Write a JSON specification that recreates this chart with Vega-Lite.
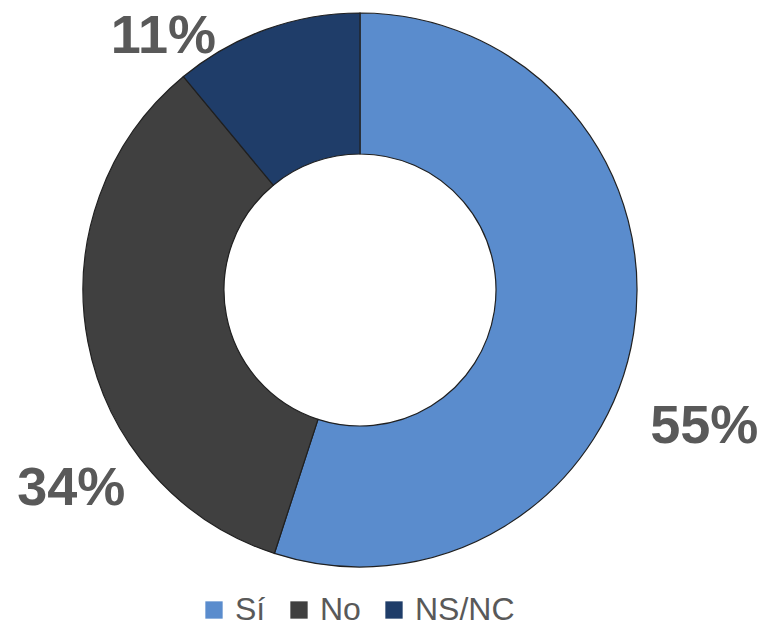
{
  "$schema": "https://vega.github.io/schema/vega-lite/v6.json",
  "width": 720,
  "height": 580,
  "autosize": "none",
  "padding": {"left": 0, "top": 0, "right": 40, "bottom": 48},
  "background": "white",
  "data": {
    "values": [
      {"respuesta": "Sí", "pct": 55, "label": "55%", "orden": 1},
      {"respuesta": "No", "pct": 34, "label": "34%", "orden": 2},
      {"respuesta": "NS/NC", "pct": 11, "label": "11%", "orden": 3}
    ]
  },
  "encoding": {
    "theta": {"field": "pct", "type": "quantitative", "stack": true},
    "order": {"field": "orden", "type": "ordinal"}
  },
  "layer": [
    {
      "mark": {"type": "arc", "radius": 277, "radius2": 136, "stroke": "#202020", "strokeWidth": 1.2},
      "encoding": {
        "color": {
          "field": "respuesta",
          "type": "nominal",
          "sort": ["Sí", "No", "NS/NC"],
          "scale": {"domain": ["Sí", "No", "NS/NC"], "range": ["#5A8CCD", "#404040", "#1F3D69"]},
          "legend": {
            "title": null,
            "orient": "none",
            "legendX": 198,
            "legendY": 594,
            "direction": "horizontal",
            "symbolType": "square",
            "symbolSize": 300,
            "symbolStrokeWidth": 0,
            "labelFont": "Liberation Sans",
            "labelFontSize": 32,
            "labelColor": "#595959",
            "labelOffset": 5,
            "columnPadding": 17
          }
        }
      }
    },
    {
      "mark": {"type": "text", "radius": 300, "dx": 48, "dy": 106, "align": "center", "baseline": "alphabetic", "font": "Liberation Sans", "fontWeight": "bold", "fontSize": 54, "color": "#595959"},
      "encoding": {"text": {"condition": {"test": "datum.respuesta === 'Sí'", "field": "label"}, "value": ""}}
    },
    {
      "mark": {"type": "text", "radius": 300, "dx": 6, "dy": 159, "align": "center", "baseline": "alphabetic", "font": "Liberation Sans", "fontWeight": "bold", "fontSize": 54, "color": "#595959"},
      "encoding": {"text": {"condition": {"test": "datum.respuesta === 'No'", "field": "label"}, "value": ""}}
    },
    {
      "mark": {"type": "text", "radius": 300, "dx": -95, "dy": 45, "align": "center", "baseline": "alphabetic", "font": "Liberation Sans", "fontWeight": "bold", "fontSize": 54, "color": "#595959"},
      "encoding": {"text": {"condition": {"test": "datum.respuesta === 'NS/NC'", "field": "label"}, "value": ""}}
    }
  ],
  "config": {"view": {"stroke": null}}
}
